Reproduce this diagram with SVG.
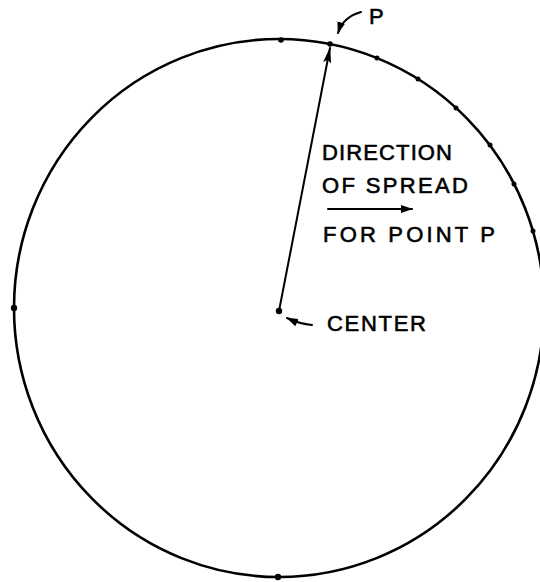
<svg xmlns="http://www.w3.org/2000/svg" width="540" height="582" viewBox="0 0 540 582">
<style>
.ln{fill:none;stroke:#000;stroke-width:2;stroke-linecap:round}
.rim{fill:none;stroke:#000;stroke-width:2.6}
.dot{fill:#000}
.t{font-family:"Liberation Sans","DejaVu Sans",Arial,sans-serif;font-size:22px;fill:#000;stroke:#000;stroke-width:0.6}
</style>
<defs>
<marker id="ah" viewBox="0 0 12 8" refX="11" refY="4" markerWidth="12" markerHeight="8" markerUnits="userSpaceOnUse" orient="auto">
<path d="M0,0 L12,4 L0,8 Z" fill="#000"/>
</marker>
<marker id="ahL" viewBox="0 0 16 8" refX="15" refY="4" markerWidth="16" markerHeight="8" markerUnits="userSpaceOnUse" orient="auto">
<path d="M0,0 L16,4 L0,8 L3,4 Z" fill="#000"/>
</marker>
</defs>
<rect width="540" height="582" fill="#fff"/>
<g id="circle">
<ellipse class="rim" cx="279" cy="308" rx="265" ry="269"/>
<circle class="dot" cx="281" cy="40" r="2.8"/>
<circle class="dot" cx="330" cy="44" r="2.8"/>
<circle class="dot" cx="377" cy="58" r="2.5"/>
<circle class="dot" cx="418" cy="79" r="2.5"/>
<circle class="dot" cx="456" cy="108" r="2.5"/>
<circle class="dot" cx="490" cy="145" r="2.5"/>
<circle class="dot" cx="514" cy="184" r="2.5"/>
<circle class="dot" cx="533" cy="231" r="2.5"/>
<circle class="dot" cx="14" cy="308" r="3.2"/>
<circle class="dot" cx="278" cy="577" r="3.2"/>
</g>
<g id="center">
<circle class="dot" cx="279" cy="311" r="3.2"/>
<text class="t" x="327" y="331" textLength="99" lengthAdjust="spacing">CENTER</text>
</g>
<g id="point-p">
<text class="t" x="369" y="24">P</text>
</g>
<g id="label">
<text class="t" x="322" y="160" textLength="130" lengthAdjust="spacing">DIRECTION</text>
<text class="t" x="322" y="193" textLength="146" lengthAdjust="spacing">OF SPREAD</text>
<text class="t" x="323" y="242" textLength="172" lengthAdjust="spacing">FOR POINT P</text>
</g>
<g id="connectors">
<line class="ln" x1="279" y1="311" x2="330" y2="48" marker-end="url(#ahL)"/>
<path class="ln" d="M361,12 Q343,17 338,33" marker-end="url(#ah)"/>
<path class="ln" d="M312,325 Q300,324 287,318" marker-end="url(#ah)"/>
<line class="ln" x1="328" y1="209" x2="412" y2="209" marker-end="url(#ah)"/>
</g>
</svg>
